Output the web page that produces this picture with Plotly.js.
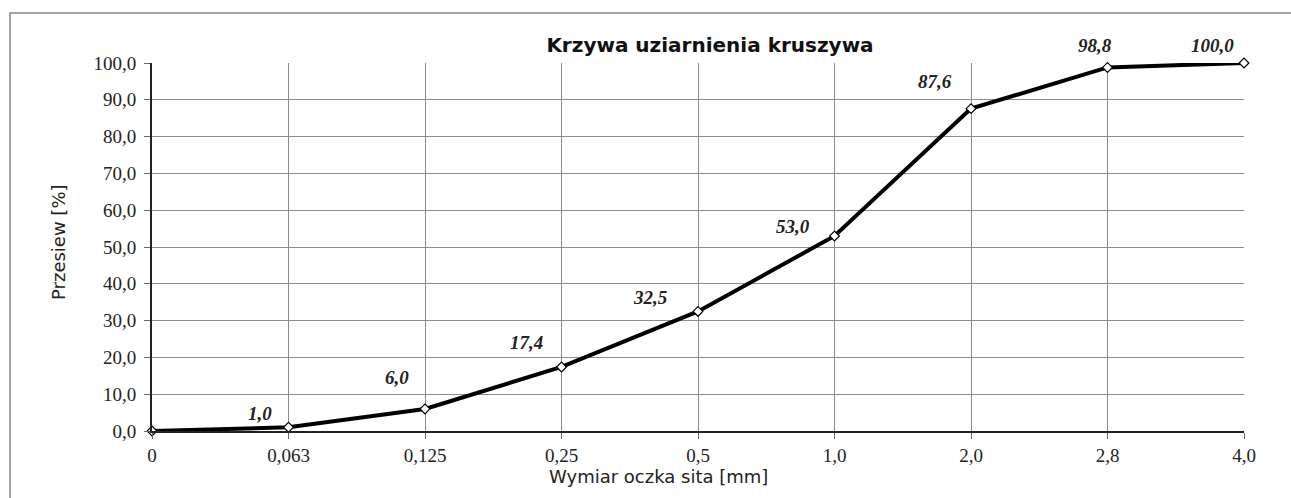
<!DOCTYPE html>
<html>
<head>
<meta charset="utf-8">
<script src="https://cdn.plot.ly/plotly-3.0.1.min.js"></script>
<style>html,body{margin:0;padding:0;background:#fff;}#chart{width:1291px;height:498px;}</style>
</head>
<body>
<div id="chart"></div>
<script>
// Data
var sieveSizes = ['0', '0,063', '0,125', '0,25', '0,5', '1,0', '2,0', '2,8', '4,0'];
var passing = [0.0, 1.0, 6.0, 17.4, 32.5, 53.0, 87.6, 98.8, 100.0];
var labelTexts = ['', '1,0', '6,0', '17,4', '32,5', '53,0', '87,6', '98,8', '100,0'];
var chartTitle = 'Krzywa uziarnienia kruszywa';
var xTitle = 'Wymiar oczka sita [mm]';
var yTitle = 'Przesiew [%]';

// label offsets (styling, pixels)
var labelShiftX = [0, -29, -28, -35, -48, -42, -36, -13, -32];
var labelShiftY = [0, 14, 31, 24, 14, 9, 27, 22, 18];

var trace = {
  x: sieveSizes,
  y: passing,
  type: 'scatter',
  mode: 'lines+markers',
  line: {color: '#000', width: 4},
  marker: {symbol: 'diamond', size: 7.5, color: '#fff', line: {color: '#000', width: 1.2}},
  hoverinfo: 'x+y',
  cliponaxis: false
};

var annotations = [];
for (var i = 0; i < sieveSizes.length; i++) {
  if (!labelTexts[i]) continue;
  annotations.push({
    x: sieveSizes[i], y: passing[i], xref: 'x', yref: 'y',
    text: '<b><i>' + labelTexts[i] + '</i></b>',
    showarrow: false, xshift: labelShiftX[i], yshift: labelShiftY[i],
    font: {family: 'Liberation Serif, Times New Roman, serif', size: 19, color: '#222'}
  });
}
// axis titles as positioned annotations
annotations.push({
  text: xTitle, xref: 'paper', yref: 'paper',
  x: (547 - 152) / 1092, xanchor: 'left',
  y: (431 - 476) / 368, yanchor: 'middle',
  showarrow: false,
  font: {family: 'DejaVu Sans, Verdana, sans-serif', size: 18, color: '#222'}
});
annotations.push({
  text: yTitle, xref: 'paper', yref: 'paper',
  x: (58 - 152) / 1092, xanchor: 'center',
  y: (431 - 242) / 368, yanchor: 'middle',
  textangle: -90,
  showarrow: false,
  font: {family: 'DejaVu Sans, Verdana, sans-serif', size: 18, color: '#222'}
});

var layout = {
  width: 1291, height: 498,
  margin: {l: 152, r: 47, t: 63, b: 67},
  paper_bgcolor: '#fff', plot_bgcolor: '#fff',
  separators: ', ',
  showlegend: false,
  title: {
    text: '<b>' + chartTitle + '</b>',
    font: {family: 'DejaVu Sans, Tahoma, sans-serif', size: 20, color: '#111'},
    xref: 'container', x: 710 / 1291, xanchor: 'center',
    yref: 'container', y: 1 - 45 / 498, yanchor: 'middle'
  },
  xaxis: {
    type: 'category',
    range: [0, sieveSizes.length - 1],
    showgrid: true, gridcolor: '#8c8c8c', gridwidth: 1,
    showline: true, linecolor: '#222', linewidth: 2,
    ticks: 'outside', ticklen: 6, tickcolor: '#666', tickwidth: 1,
    tickfont: {family: 'Liberation Serif, Times New Roman, serif', size: 19, color: '#222'},
    zeroline: false, fixedrange: true
  },
  yaxis: {
    range: [0, 100], dtick: 10, tick0: 0,
    tickformat: '.1f',
    showgrid: true, gridcolor: '#8c8c8c', gridwidth: 1,
    showline: true, linecolor: '#222', linewidth: 2,
    ticks: 'outside', ticklen: 6, tickcolor: '#666', tickwidth: 1,
    ticklabelstandoff: 4,
    tickfont: {family: 'Liberation Serif, Times New Roman, serif', size: 19, color: '#222'},
    zeroline: false, fixedrange: true
  },
  shapes: [{
    type: 'rect', xref: 'paper', yref: 'paper',
    x0: (10 - 152) / 1092, x1: 1.3, y0: -0.3, y1: (431 - 13) / 368,
    line: {color: '#888', width: 1.5}, fillcolor: 'rgba(0,0,0,0)', layer: 'below'
  }],
  annotations: annotations
};

Plotly.newPlot('chart', [trace], layout, {displayModeBar: false, staticPlot: true});
</script>
</body>
</html>
